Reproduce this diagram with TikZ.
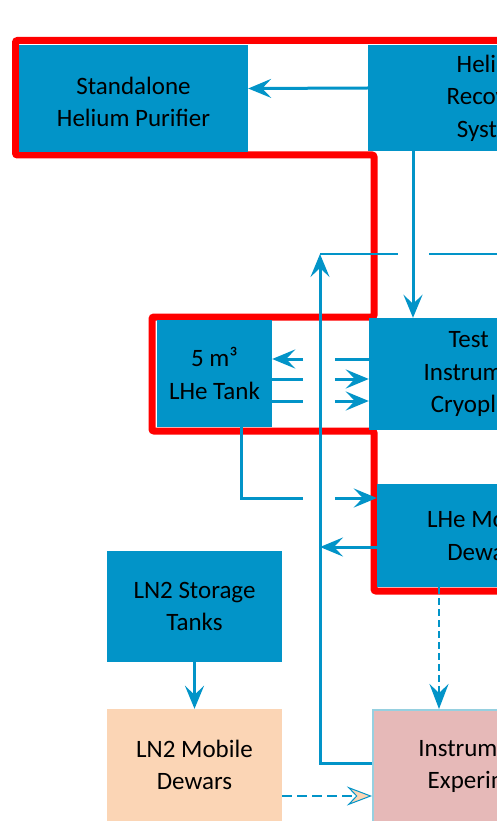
\documentclass[tikz,border=0pt]{standalone}
\usepackage{fontspec}
\setmainfont{Carlito}
\usetikzlibrary{arrows.meta,positioning}
\definecolor{helium}{RGB}{2,148,200}
\definecolor{fence}{RGB}{255,0,0}
\definecolor{nitrogen}{RGB}{251,213,181}
\definecolor{instrument}{RGB}{230,185,184}
\definecolor{rim}{RGB}{150,208,224}

\begin{document}
\begin{tikzpicture}[x=1pt,y=-1pt,
    unit/.style={rectangle,fill=helium,inner sep=0pt,align=center,font=\fontsize{25}{32.5}\selectfont},
    pipe/.style={helium,line width=3pt},
    flow/.style={pipe,-{Stealth[length=23pt,width=19pt,inset=9pt]}},
    feed/.style={helium,line width=2.5pt,dash pattern=on 7pt off 4pt,-{Stealth[length=25pt,width=19pt,inset=9pt]}}]
    \useasboundingbox (0,0) rectangle (497,821);
    \clip (0,0) rectangle (497,821);

    % Red boundary
    \draw[fence,line width=7pt,rounded corners=2pt] (15.5,40.5) -- (530,40.5) -- (530,591) -- (374,591)
        -- (374,431) -- (152,431) -- (152,317) -- (374,317) -- (374,155) -- (15.5,155) -- cycle;

    % Units
    \node[unit,minimum width=229pt,minimum height=107pt] (purifier) at (133.5,98.5) {\rule{0pt}{24pt}Standalone\\Helium Purifier};
    \node[unit,minimum width=250pt,minimum height=106pt] (recovery) at (493,98) {Helium\\Recovery\\System};
    \node[unit,minimum width=222pt,minimum height=112pt] (cryoplant) at (480,374) {Test\hphantom{ \&}\\Instrument\\Cryoplant};
    \node[unit,minimum width=115pt,minimum height=107pt] (tank) at (214.5,373.5) {5 m³\\LHe Tank};
    \node[unit,minimum width=216pt,minimum height=103pt] (lhedewars) at (485,535.5) {LHe Mobile\\Dewars};
    \node[unit,minimum width=175pt,minimum height=111pt] (ln2tanks) at (194.5,606.5) {LN2 Storage\\Tanks};
    \node[unit,fill=nitrogen,minimum width=175pt,minimum height=112pt] (ln2dewars) at (194.5,765) {LN2 Mobile\\Dewars};
    \node[unit,fill=instrument,draw=rim,line width=2pt,minimum width=236pt,minimum height=112pt] (experiments) at (491,766) {Instruments \&\\Experiments};

    % Helium return
    \coordinate (split) at (413,254);
    \coordinate (ret) at (320,254);
    \coordinate (retend) at (530,254);
    \draw[flow] ([yshift=10pt]recovery.west) -- ([yshift=10pt]purifier.east);
    \draw[flow] (recovery.south -| split) -- (cryoplant.north -| split);
    \draw[flow] ([yshift=3pt]experiments.west) -| (ret);
    \draw[helium,line width=2pt] (ret) -- ([xshift=-15pt]split);
    \draw[helium,line width=2pt] ([xshift=16pt]split) -- (retend);

    % Tank and cryoplant
    \foreach \dy [count=\i] in {14.5,-5.5,-27.5} {
        \coordinate (tl\i) at ([yshift=\dy pt]tank.east);
        \coordinate (cr\i) at (tl\i -| cryoplant.west);
    }
    \draw[pipe] (cr1) -- ++(-34pt,0);
    \draw[flow] ([xshift=31pt]tl1) -- (tl1);
    \draw[pipe] (tl2) -- ++(31pt,0);
    \draw[flow] ([xshift=-34pt]cr2) -- (cr2);
    \draw[pipe] (tl3) -- ++(31pt,0);
    \draw[flow] ([xshift=-34pt]cr3) -- (cr3);

    % Tank to mobile dewars
    \coordinate (tj) at ([yshift=37.5pt]lhedewars.west);
    \draw[pipe] ([xshift=26.5pt]tank.south) |- ([xshift=-74pt]tj);
    \draw[flow] ([xshift=-42pt]tj) -- (tj);
    \coordinate (ld) at ([yshift=-11.5pt]lhedewars.west);
    \draw[flow] (ld) -- (ld -| ret);

    % Delivery to experiments
    \coordinate (dd) at ([xshift=-46pt]lhedewars.south);
    \draw[feed] (dd) -- (dd |- experiments.north);
    \draw[flow] (ln2tanks) -- (ln2dewars);
    \coordinate (nd) at ([yshift=-31pt]ln2dewars.east);
    \draw[feed,dash pattern=on 10pt off 5pt,-{Stealth[length=25pt,width=19pt,inset=9pt,fill=nitrogen,line width=1pt]}] (nd) -- (nd -| experiments.west);
\end{tikzpicture}
\end{document}
